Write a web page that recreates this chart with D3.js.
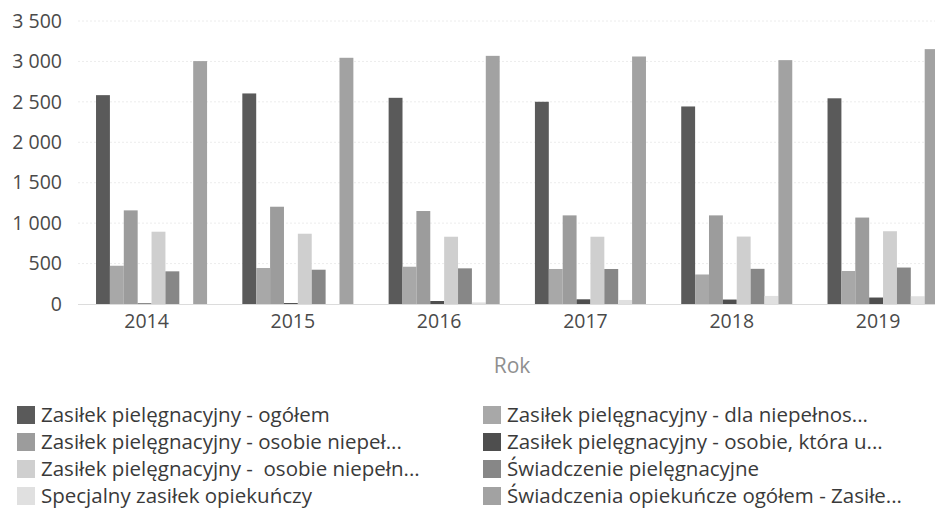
<!DOCTYPE html>
<html>
<head>
<meta charset="utf-8">
<script src="https://cdn.jsdelivr.net/npm/d3@7"></script>
<style>
    body { margin: 0; background: #fff; }
    text { font-family: "Open Sans", sans-serif; }
</style>
</head>
<body>
<div id="chart"></div>
<script>
const years = ["2014", "2015", "2016", "2017", "2018", "2019"];

const seriesNames = [
    "Zasiłek pielęgnacyjny - ogółem",
    "Zasiłek pielęgnacyjny - dla niepełnos...",
    "Zasiłek pielęgnacyjny - osobie niepeł...",
    "Zasiłek pielęgnacyjny - osobie, która u...",
    "Zasiłek pielęgnacyjny -  osobie niepełn...",
    "Świadczenie pielęgnacyjne",
    "Specjalny zasiłek opiekuńczy",
    "Świadczenia opiekuńcze ogółem - Zasiłe..."
];

const zasilekOgolem = [2583, 2604, 2550, 2501, 2443, 2544];
const dlaNiepelnosprawnego = [473, 445, 461, 433, 365, 408];
const osobieNiepelnoA = [1158, 1203, 1150, 1096, 1096, 1069];
const osobieKtoraUkonczyla = [8, 12, 37, 58, 55, 80];
const osobieNiepelnoB = [894, 869, 832, 832, 834, 900];
const swiadczeniePiel = [404, 424, 441, 433, 435, 451];
const specjalnyZasilek = [0, 0, 20, 50, 100, 96];
const swiadczeniaOgolem = [3004, 3045, 3069, 3061, 3016, 3152];

const yTicks = [0, 500, 1000, 1500, 2000, 2500, 3000, 3500];

const colors = ["#5a5a5a", "#a8a8a8", "#9c9c9c", "#4e4e4e", "#cfcfcf", "#878787", "#e0e0e0", "#a2a2a2"];

const seriesValues = [zasilekOgolem, dlaNiepelnosprawnego, osobieNiepelnoA, osobieKtoraUkonczyla,
    osobieNiepelnoB, swiadczeniePiel, specjalnyZasilek, swiadczeniaOgolem];

// one row per year
const data = years.map((y, i) => ({
    year: y,
    values: seriesNames.map((name, k) => ({ key: name, value: seriesValues[k][i] }))
}));

const width = 935, height = 520;

const svg = d3.select("#chart").append("svg")
    .attr("width", width)
    .attr("height", height);

// scales
const x0 = d3.scaleBand()
    .domain(years)
    .range([78.4, 956.2])
    .paddingInner(0.241)
    .paddingOuter(0.1205);

const x1 = d3.scaleBand()
    .domain(seriesNames)
    .range([0, x0.bandwidth()])
    .padding(0);

const y = d3.scaleLinear()
    .domain([0, 3500])
    .range([304, 21]);

const color = d3.scaleOrdinal(seriesNames, colors);

const fmt = d3.formatLocale({ thousands: " ", grouping: [3], decimal: ",", currency: ["", ""] }).format(",");

// grid
svg.append("g")
    .selectAll("line")
    .data(yTicks.filter(d => d > 0))
    .join("line")
    .attr("x1", 78)
    .attr("x2", width)
    .attr("y1", d => y(d))
    .attr("y2", d => y(d))
    .attr("stroke", "#ececec")
    .attr("stroke-dasharray", "2,2");

// y axis
const yAxis = svg.append("g")
    .attr("transform", "translate(62,0)")
    .call(d3.axisLeft(y).tickValues(yTicks).tickFormat(fmt).tickSize(0).tickPadding(0));
yAxis.select(".domain").remove();
yAxis.selectAll("text")
    .style("font-size", "19.5px")
    .attr("fill", "#4a4a4a");

// bars
svg.append("g")
    .selectAll("g")
    .data(data)
    .join("g")
    .attr("transform", d => `translate(${x0(d.year)},0)`)
    .selectAll("rect")
    .data(d => d.values)
    .join("rect")
    .attr("x", d => x1(d.key))
    .attr("width", x1.bandwidth())
    .attr("y", d => y(d.value))
    .attr("height", d => y(0) - y(d.value))
    .attr("fill", d => color(d.key));

// baseline
svg.append("line")
    .attr("x1", 78)
    .attr("x2", width)
    .attr("y1", y(0) + 0.5)
    .attr("y2", y(0) + 0.5)
    .attr("stroke", "#dcdcdc");

// x axis
const xAxis = svg.append("g")
    .attr("transform", `translate(0,${y(0)})`)
    .call(d3.axisBottom(x0).tickSize(0).tickPadding(10));
xAxis.select(".domain").remove();
xAxis.selectAll("text")
    .attr("dx", -5)
    .attr("dy", "0.71em")
    .style("font-size", "19.5px")
    .attr("fill", "#4a4a4a");

// axis title
svg.append("text")
    .attr("x", 512)
    .attr("y", 373)
    .attr("text-anchor", "middle")
    .style("font-size", "21px")
    .attr("fill", "#8f8f8f")
    .text("Rok");

// legend, filled row by row in two columns
const legend = svg.append("g")
    .selectAll("g")
    .data(seriesNames)
    .join("g")
    .attr("transform", (d, i) => `translate(${i % 2 === 0 ? 17 : 483},${415 + Math.floor(i / 2) * 27})`);

legend.append("rect")
    .attr("x", 0)
    .attr("y", -9)
    .attr("width", 18)
    .attr("height", 18)
    .attr("fill", d => color(d));

legend.append("text")
    .attr("x", 24)
    .attr("dy", "0.35em")
    .style("font-size", "20.5px")
    .style("white-space", "pre")
    .attr("fill", "#3a3a3a")
    .text(d => d);
</script>
</body>
</html>
